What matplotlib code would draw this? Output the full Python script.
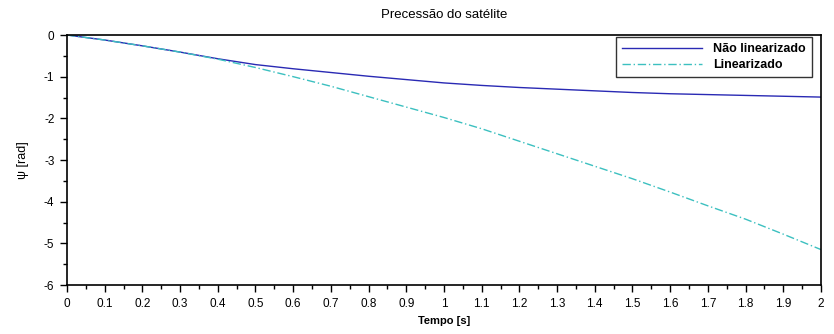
import matplotlib
matplotlib.use('Agg')
import matplotlib.pyplot as plt
from matplotlib.ticker import MultipleLocator

plt.rcParams['font.family'] = ['Liberation Sans', 'DejaVu Sans']
plt.rcParams['axes.unicode_minus'] = False

# tempo [s]
tempo = [0.0, 0.1, 0.2, 0.3, 0.4, 0.5, 0.6, 0.7, 0.8, 0.9, 1.0,
         1.1, 1.2, 1.3, 1.4, 1.5, 1.6, 1.7, 1.8, 1.9, 2.0]
# psi nao linearizado [rad]
psi_nao_lin = [0.0, -0.12, -0.26, -0.41, -0.57, -0.71, -0.81, -0.90, -0.99, -1.07, -1.15,
               -1.21, -1.26, -1.30, -1.34, -1.38, -1.41, -1.43, -1.45, -1.47, -1.49]
# psi linearizado [rad]
psi_lin = [0.0, -0.12, -0.26, -0.41, -0.58, -0.78, -1.00, -1.23, -1.48, -1.73, -1.98,
           -2.25, -2.55, -2.85, -3.15, -3.45, -3.77, -4.10, -4.42, -4.78, -5.15]

fig = plt.figure(figsize=(8.34, 3.34), dpi=100)
ax = fig.add_axes([0.0803, 0.1467, 0.9041, 0.7485])

ax.plot(tempo, psi_nao_lin, color='#2a2ab4', lw=1.0, label='Não linearizado')
ax.plot(tempo, psi_lin, color='#3cc0c0', lw=1.0, ls=(0, (6, 2, 1, 2)), label='Linearizado')

ax.set_xlim(0, 2)
ax.set_ylim(-6, 0)
ax.xaxis.set_major_locator(MultipleLocator(0.1))
ax.xaxis.set_minor_locator(MultipleLocator(0.05))
ax.yaxis.set_major_locator(MultipleLocator(1))
ax.yaxis.set_minor_locator(MultipleLocator(0.5))
ax.xaxis.set_major_formatter(plt.FuncFormatter(lambda v, p: ('%.1f' % v).rstrip('0').rstrip('.')))
ax.tick_params(which='major', direction='out', length=5, width=1, labelsize=8.5, pad=4)
ax.tick_params(which='minor', direction='out', length=3, width=1)
for s in ax.spines.values():
    s.set_linewidth(1.2)

ax.set_title('Precessão do satélite', fontsize=9.5, pad=12)
ax.set_xlabel('Tempo [s]', fontsize=8, fontweight='bold', labelpad=5)
ax.set_ylabel('ψ [rad]', fontsize=9, labelpad=11)

leg = ax.legend(loc='upper right', bbox_to_anchor=(0.988, 0.992), borderaxespad=0,
                frameon=True, fancybox=False, edgecolor='black', handlelength=6.4,
                handletextpad=0.9, borderpad=0.5, labelspacing=0.3,
                prop={'weight': 'bold', 'size': 9})
leg.get_frame().set_linewidth(1.0)

fig.savefig('out.png', dpi=100)
